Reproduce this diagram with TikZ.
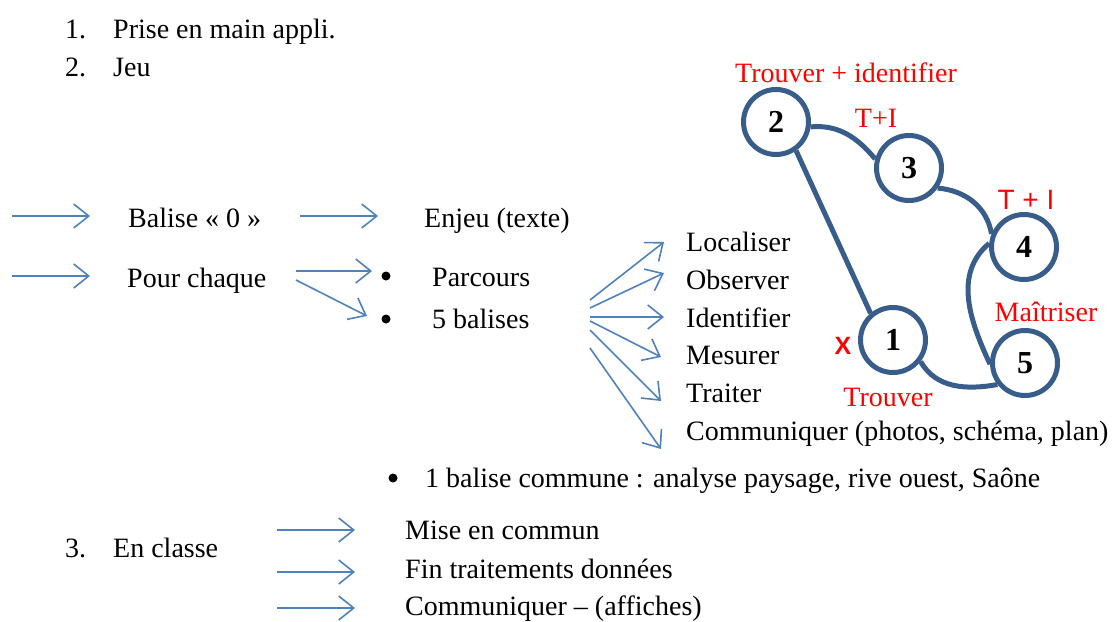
\documentclass[tikz,border=0pt]{standalone}
\usepackage{fontspec}
\setmainfont{Liberation Serif}
\newfontfamily\arialf{Liberation Sans}
\usetikzlibrary{arrows.meta}
\definecolor{arrblue}{RGB}{79,129,189}
\definecolor{circblue}{RGB}{56,93,138}
\definecolor{redlab}{RGB}{255,0,0}
\begin{document}
\begin{tikzpicture}[x=1pt,y=-1pt,
  txt/.style={anchor=base west,inner sep=0pt,font=\fontsize{28}{33}\selectfont},
  lab/.style={anchor=base,inner sep=0pt,text=redlab,font=\fontsize{28}{33}\selectfont},
  arr/.style={draw=arrblue,line width=1.6pt,-{Straight Barb[length=15pt,width=24pt,line width=1.6pt]}},
  bul/.style={circle,fill=black,inner sep=0pt,minimum size=9pt},
  num/.style={circle,draw=circblue,line width=5pt,minimum size=65pt,inner sep=0pt,font=\fontsize{32}{36}\selectfont\bfseries},
  link/.style={draw=circblue,line width=5pt}]
\useasboundingbox (0,0) rectangle (1115,621);
% top list
\node[txt] (n1) at (65,38) {1.};
\node[txt] (t1) at (113,38) {Prise en main appli.};
\node[txt] (n2) at (65,76) {2.};
\node[txt] (t2) at (113,76) {Jeu};
% row balise 0
\coordinate (a1s) at (12,216);
\node[txt] (bal0) at (128,227) {Balise « 0 »};
\node[txt] (enj) at (424,227) {Enjeu (texte)};
\draw[arr] (a1s) -- (90,216) coordinate (a1e);
\coordinate (a2s) at (300,216);
\draw[arr] (a2s) -- (378,216);
% row pour chaque
\coordinate (a3s) at (12,276);
\draw[arr] (a3s) -- (90,276);
\node[txt] (pour) at (127,287) {Pour chaque};
\node[bul] (b1) at (386,276) {};
\node[bul] (b2) at (386,319) {};
\node[txt] (parc) at (432,286) {Parcours};
\node[txt] (cinq) at (432,328) {5 balises};
\coordinate (ps) at (296,271);
\coordinate (ps2) at (296,280);
\draw[arr] (ps) -- (372,271);
\draw[arr] (ps2) -- (367,316);
% fan
\node[txt] (loc) at (686,251) {Localiser};
\node[txt] (obs) at (686,289) {Observer};
\node[txt] (ide) at (686,327) {Identifier};
\node[txt] (mes) at (686,364) {Mesurer};
\node[txt] (tra) at (686,402) {Traiter};
\node[txt] (com) at (686,440) {Communiquer (photos, schéma, plan)};
\coordinate (f1) at (590,300);
\coordinate (f2) at (590,308);
\coordinate (f3) at (590,317);
\coordinate (f4) at (590,321);
\coordinate (f5) at (590,330);
\coordinate (f6) at (590,348);
\draw[arr] (f1) -- (664,242);
\draw[arr] (f2) -- (664,273);
\draw[arr] (f3) -- (664,317);
\draw[arr] (f4) -- (661,357);
\draw[arr] (f5) -- (661,401);
\draw[arr] (f6) -- (661,449);
% common
\node[bul] (b3) at (393,478) {};
\node[txt] (bc) at (425,487) {1 balise commune : analyse paysage, rive ouest, Saône};
% en classe
\node[txt] (n3) at (65,557) {3.};
\node[txt] (cl) at (113,557) {En classe};
\coordinate (c1s) at (277,530);
\coordinate (c2s) at (277,572);
\coordinate (c3s) at (277,608);
\draw[arr] (c1s) -- ++(78,0);
\draw[arr] (c2s) -- ++(78,0);
\draw[arr] (c3s) -- ++(78,0);
\node[txt] (mc) at (405,539) {Mise en commun};
\node[txt] (ft) at (405,578) {Fin traitements données};
\node[txt] (ca) at (405,615) {Communiquer – (affiches)};
% graph
\node[num] (k2) at (776,122) {2};
\node[num] (k3) at (909,168) {3};
\node[num] (k4) at (1024,247) {4};
\node[num] (k1) at (893,340) {1};
\node[num] (k5) at (1025,363) {5};
\draw[link] (k2.-55) -- (k1.130);
\draw[link] (k2.-8) to[out=5,in=130] (k3.165);
\draw[link] (k3.-35) to[out=-5,in=100] (k4.158);
\draw[link] (k4.174) to[out=220,in=115] (k5.182);
\draw[link] (k1.-38) to[out=-60,in=190] (k5.218);
\node[lab] (l2) at (846,82) {Trouver + identifier};
\node[lab] (l3) at (876,127) {T+I};
\node[lab,font=\arialf\fontsize{28}{33}\selectfont] (l4) at (1026,209) {T + I};
\node[lab] (l5) at (1046,321) {Maîtriser};
\node[lab,font=\arialf\bfseries\fontsize{25}{30}\selectfont] (lx) at (843,354) {X};
\node[lab] (l1) at (888,406) {Trouver};
\end{tikzpicture}
\end{document}
